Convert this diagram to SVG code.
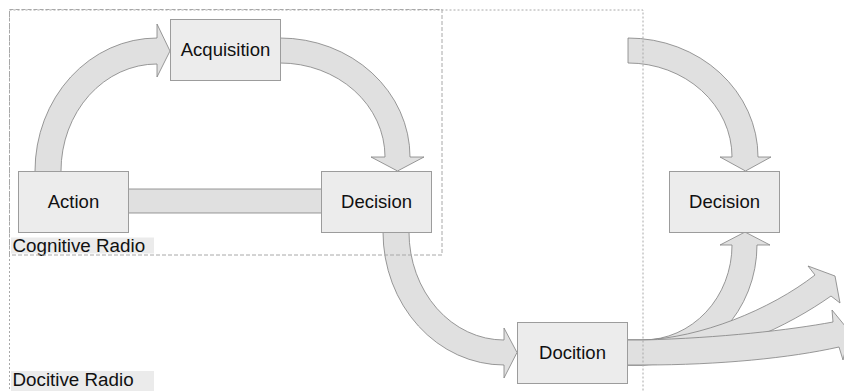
<svg xmlns="http://www.w3.org/2000/svg" width="844" height="391" viewBox="0 0 844 391">
  <style>
    .arrow { fill: #e0e0e0; stroke: #808080; stroke-width: 0.8; stroke-linejoin: miter; }
    .node rect { fill: #ececec; stroke: #9c9c9c; stroke-width: 1; }
    .node text { font-family: "Liberation Sans", Arial, sans-serif; font-size: 18.5px; fill: #111; text-anchor: middle; }
    .frame { fill: none; stroke: #a8a8a8; stroke-width: 1; }
    .tag rect { fill: #ebebeb; }
    .tag text { font-family: "Liberation Sans", Arial, sans-serif; font-size: 18.8px; fill: #111; }
  </style>

  <!-- block-arrow connectors -->
  <g id="connectors">
    <!-- Action -> Decision bar -->
    <rect class="arrow" x="126" y="189" width="198" height="24"/>
    <!-- Action -> Acquisition -->
    <path class="arrow" d="M35,172 L35,171 A122,133 0 0 1 157,38 L157,24 L170,51 L157,77 L157,64 A96,107 0 0 0 61,171 L61,172 Z"/>
    <!-- Acquisition -> Decision -->
    <path class="arrow" d="M279,38 L280,38 A130,119 0 0 1 410,157 L424,157 L397.5,171 L371,157 L385,157 A105,94 0 0 0 280,63 L279,63 Z"/>
    <!-- Decision -> Docition -->
    <path class="arrow" d="M383,231 L383,232 A121,133 0 0 0 504,365 L504,378 L517,352.5 L504,328 L504,340 A95,108 0 0 1 409,232 L409,231 Z"/>
    <!-- incoming -> Decision (right) -->
    <path class="arrow" d="M628,38 A130,119 0 0 1 758,157 L771,157 L745.5,171 L720,157 L732,157 A104,94 0 0 0 628,63 Z"/>
    <!-- Docition fan: up to Decision -->
    <path class="arrow" d="M627,340 L643,340 A89,95 0 0 0 732,245 L720,245 L745,232 L770,245 L757,245 A114,120 0 0 1 643,365 L627,365 Z"/>
    <!-- Docition fan: upper right -->
    <path class="arrow" d="M627,340 L643,340 C700,338 770,310 815,275 L808,266 L835,276 L840,303 L831,296 C790,325 720,360 643,365 L627,365 Z"/>
    <!-- Docition fan: right -->
    <path class="arrow" d="M627,340 L643,340 C720,338 790,330 833,322 L832,310 L850,332 L843,360 L839,347 C790,358 720,365 643,365 L627,365 Z"/>
  </g>

  <!-- nodes -->
  <g id="acquisition" class="node">
    <rect x="170.5" y="19.5" width="110" height="61"/>
    <text x="225.5" y="56">Acquisition</text>
  </g>
  <g id="action" class="node">
    <rect x="18.5" y="171.5" width="110" height="61"/>
    <text x="73.5" y="208">Action</text>
  </g>
  <g id="decision-cr" class="node">
    <rect x="321.5" y="171.5" width="110" height="61"/>
    <text x="376.5" y="208">Decision</text>
  </g>
  <g id="decision-dr" class="node">
    <rect x="669.5" y="171.5" width="110" height="61"/>
    <text x="724.5" y="208">Decision</text>
  </g>
  <g id="docition" class="node">
    <rect x="517.5" y="322.5" width="110" height="61"/>
    <text x="572.5" y="359">Docition</text>
  </g>

  <!-- group frames and their labels -->
  <g id="cognitive-radio">
    <g class="tag">
      <rect x="11" y="237.5" width="143" height="16"/>
      <text x="12.5" y="252">Cognitive Radio</text>
    </g>
    <rect class="frame" x="9.5" y="9.5" width="432.5" height="245.5" stroke-dasharray="4 2"/>
  </g>
  <g id="docitive-radio">
    <g class="tag">
      <rect x="11" y="371" width="143" height="20"/>
      <text x="12.5" y="386">Docitive Radio</text>
    </g>
    <rect class="frame" x="9.5" y="10" width="633.5" height="400" stroke-dasharray="2 2"/>
  </g>
</svg>
